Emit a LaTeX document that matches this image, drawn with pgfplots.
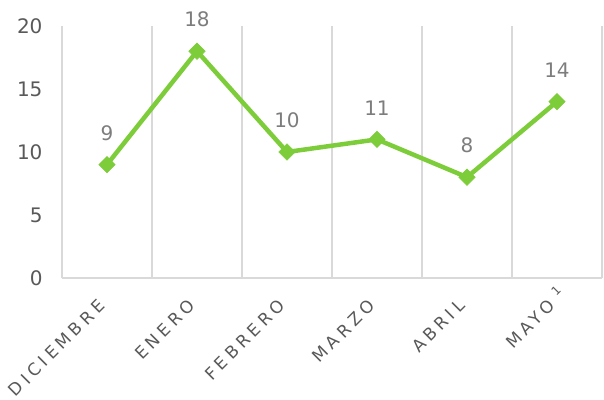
\documentclass[border=0pt]{standalone}
\usepackage{pgfplots}
\pgfplotsset{compat=1.18}
\usepackage{fontspec}
\setmainfont{DejaVu Sans}
\definecolor{lgreen}{RGB}{125,205,58}
\definecolor{gridgray}{RGB}{217,217,217}
\definecolor{ticktext}{RGB}{89,89,89}
\definecolor{labtext}{RGB}{125,125,125}
\begin{document}
\begin{tikzpicture}
\begin{axis}[
  scale only axis,
  width=540bp, height=252bp,
  xmin=-0.5, xmax=5.5,
  ymin=0, ymax=20,
  ytick={0,5,10,15,20},
  xtick={0,1,2,3,4,5},
  xticklabels={DICIEMBRE,ENERO,FEBRERO,MARZO,ABRIL,{MAYO\rlap{\hspace{8bp}\raisebox{7.5bp}[0pt][0pt]{\fontsize{12bp}{12bp}\selectfont 1}}}},
  minor xtick={-0.5,0.5,1.5,2.5,3.5,4.5,5.5},
  xminorgrids=true,
  minor grid style={gridgray, line width=1.2bp},
  major tick length=0pt, minor tick length=0pt,
  axis x line*=bottom,
  axis y line*=left,
  x axis line style={gridgray, line width=1.5bp, -},
  y axis line style={draw=none},
  tick style={draw=none},
  /pgf/number format/assume math mode=true,
  yticklabel style={font=\fontsize{20bp}{20bp}\selectfont, text=ticktext, xshift=-16bp},
  xticklabel style={font=\fontsize{17bp}{17bp}\selectfont\addfontfeatures{LetterSpace=24}, text=ticktext, inner sep=0pt, yshift=-20bp, xshift=-10bp, rotate=45, anchor=north east},
  clip=false,
  nodes near coords,
  every node near coord/.append style={font=\fontsize{20bp}{20bp}\selectfont, text=labtext, anchor=south, inner sep=0pt, yshift=24bp},
]
\addplot[lgreen, line width=4.5bp, mark=square*, mark size=5.8bp,
  mark options={rotate=45, line width=0.5bp, fill=lgreen, draw=lgreen}]
  coordinates {(0,9) (1,18) (2,10) (3,11) (4,8) (5,14)};
\end{axis}
\useasboundingbox (-62bp,-122bp) rectangle (542bp,278bp);
\end{tikzpicture}
\end{document}
